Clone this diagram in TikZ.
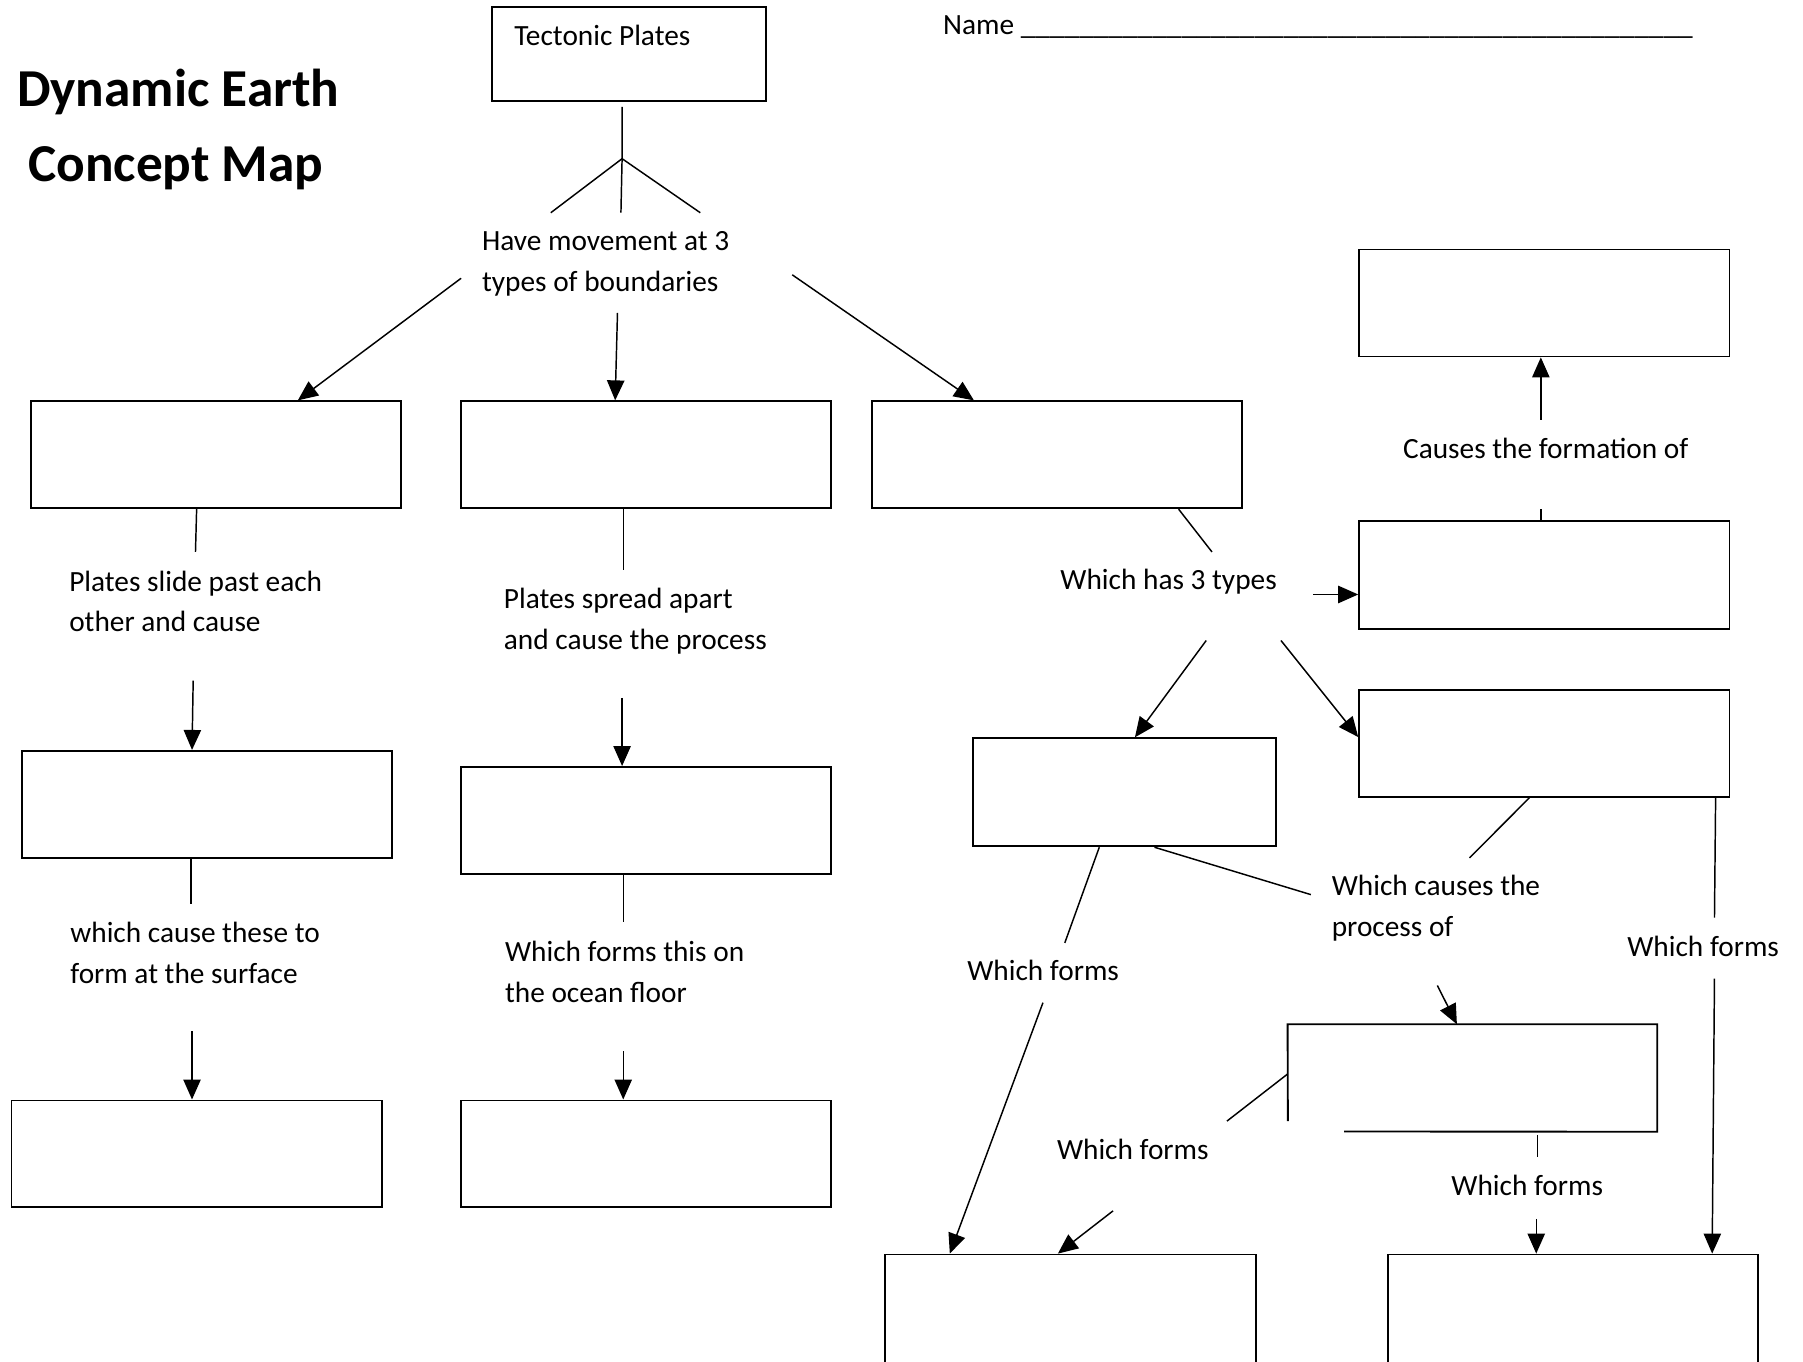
\documentclass[tikz,border=0pt]{standalone}
\usepackage{fontspec}
\setmainfont{Carlito}
\usetikzlibrary{arrows.meta}
\def\myu{0.8625pt}
\newcommand\twolines[2]{\parbox[t]{340pt}{#1\\#2}}
\tikzset{
  bx/.style={draw, line width=1.4pt, inner sep=0pt, minimum width=322*\myu, minimum height=93*\myu},
  ghost/.style={inner sep=0pt, minimum width=321*\myu, minimum height=93*\myu},
  ln/.style={line width=1.1pt},
  arr/.style={line width=1.1pt, -{Triangle[length=15pt,width=13pt]}},
  txt/.style={inner sep=0pt, anchor=base west, font=\fontsize{22}{30.6}\selectfont},
  txtone/.style={inner sep=0pt, anchor=base west, font=\fontsize{22}{30.6}\selectfont},
  ttl/.style={inner sep=0pt, anchor=base, font=\fontsize{40}{56}\selectfont\bfseries},
}
\begin{document}
\begin{tikzpicture}[x=0.8625pt, y=-0.8625pt]
\clip (0,0) rectangle (1568,1184);
\fill[white] (0,0) rectangle (1568,1184);

% titles
\node[ttl] (t1) at (155,93) {Dynamic Earth};
\node[ttl] (t2) at (153,158) {Concept Map};
\node[txtone] (name) at (820,30) {Name \_\_\_\_\_\_\_\_\_\_\_\_\_\_\_\_\_\_\_\_\_\_\_\_\_\_\_\_\_\_\_\_\_\_\_\_\_\_\_\_\_\_\_\_\_\_};

% boxes
\node[bx, minimum width=238*\myu, minimum height=82*\myu] (tp) at (547,47) {};
\node[txtone] (tpl) at (447,40) {Tectonic Plates};
\node[bx] (b1) at (188,395.5) {};
\node[bx] (b2) at (562,395.5) {};
\node[bx] (b3) at (919,395.5) {};
\node[bx] (r1) at (1343,263.5) {};
\node[bx, minimum height=94*\myu] (r2) at (1343,500) {};
\node[bx] (r3) at (1343,646.5) {};
\node[bx] (c1) at (180,699.5) {};
\node[bx] (c2) at (562,713.5) {};
\node[bx] (d1) at (171,1003.5) {};
\node[bx] (d2) at (562,1003.5) {};
\node[bx, minimum width=264*\myu, minimum height=94*\myu] (m) at (978,689) {};
\node[ghost] (p) at (1280.5,937.5) {};
\node[bx, minimum height=120*\myu] (bl) at (931,1151) {};
\node[bx, minimum height=120*\myu] (br) at (1368,1151) {};
\coordinate (pa) at (1120,975);
\coordinate (pb) at (1169,984);
\draw[line width=1.4pt] (pa) -- (p.north west) -- (p.north east) -- (p.south east) -- (pb);

% text labels
\node[txt] (hm) at (419,218) {\twolines{Have movement at 3}{types of boundaries}};
\node[txtone] (cf) at (1220,399) {Causes the formation of};
\node[txt] (ps) at (60,514) {\twolines{Plates slide past each}{other and cause}};
\node[txt] (pa2) at (438,529) {\twolines{Plates spread apart}{and cause the process}};
\node[txtone] (wh) at (922,513) {Which has 3 types};
\node[txt] (wc) at (61,820) {\twolines{which cause these to}{form at the surface}};
\node[txt] (wo) at (439,836) {\twolines{Which forms this on}{the ocean floor}};
\node[txt] (wp) at (1158,779) {\twolines{Which causes the}{process of}};
\node[txtone] (wf1) at (841,853) {Which forms};
\node[txtone] (wf2) at (1415,832) {Which forms};
\node[txtone] (wf3) at (919,1008) {Which forms};
\node[txtone] (wf4) at (1262,1040) {Which forms};

% connectors from Tectonic Plates
\coordinate (j0) at (541,93);
\coordinate (j) at (541,138);
\coordinate (jl) at (479,185);
\coordinate (jm) at (540,185);
\coordinate (jr) at (609,185);
\draw[ln] (j0) -- (j) -- (jm);
\draw[ln] (j) -- (jl);
\draw[ln] (j) -- (jr);

\coordinate (h1) at (401,242);
\coordinate (h2) at (537,272);
\coordinate (h3) at (689,239);
\draw[arr] (h1) -- (259,0 |- b1.north);
\draw[arr] (h2) -- (535,0 |- b2.north);
\draw[arr] (h3) -- (847,0 |- b3.north);

% right column top
\coordinate (cf1) at (1340,365);
\draw[arr] (cf1) -- (1340,0 |- r1.south);
\coordinate (cf2) at (1340,443);
\draw[ln] (cf2) -- (1340,0 |- r2.north);

% column 1
\coordinate (a1) at (170,480);
\draw[ln] (171,0 |- b1.south) -- (a1);
\coordinate (a2) at (168,592);
\draw[arr] (a2) -- (167,0 |- c1.north);
\coordinate (a3) at (166,786);
\draw[ln] (166,0 |- c1.south) -- (a3);
\coordinate (a4) at (167,897);
\draw[arr] (a4) -- (167,0 |- d1.north);

% column 2
\coordinate (e1) at (542,496);
\draw[ln] (542,0 |- b2.south) -- (e1);
\coordinate (e2) at (541,607);
\draw[arr] (e2) -- (541,0 |- c2.north);
\coordinate (e3) at (542,802);
\draw[ln] (542,0 |- c2.south) -- (e3);
\coordinate (e4) at (542,914);
\draw[arr] (e4) -- (542,0 |- d2.north);

% column 3
\coordinate (g1) at (1054,480);
\draw[ln] (1025,0 |- b3.south) -- (g1);
\coordinate (g2) at (1142,517);
\draw[arr] (g2) -- (r2.west |- 0,517);
\coordinate (g3) at (1049,557);
\draw[arr] (g3) -- (987,0 |- m.north);
\coordinate (g4) at (1114,557);
\draw[arr] (g4) -- (r3.west |- 0,641);

% from m
\coordinate (k1) at (926,820);
\draw[ln] (956,0 |- m.south) -- (k1);
\coordinate (k2) at (907,872);
\draw[arr] (k2) -- (826,0 |- bl.north);
\coordinate (k3) at (1140,778);
\draw[ln] (1004,0 |- m.south) -- (k3);

% from r3
\coordinate (n1) at (1278,746);
\draw[ln] (1330,0 |- r3.south) -- (n1);
\coordinate (n2) at (1250,857);
\draw[arr] (n2) -- (1267,0 |- p.north);
\coordinate (n3) at (1491,798);
\draw[ln] (1492,0 |- r3.south) -- (n3);
\coordinate (n4) at (1491,851);
\draw[arr] (n4) -- (1489,0 |- br.north);

% from p
\coordinate (q1) at (1067,975);
\draw[ln] (q1) -- (p.west |- 0,934);
\coordinate (q2) at (968,1053);
\draw[arr] (q2) -- (920,0 |- bl.north);
\coordinate (q3) at (1337,987);
\coordinate (q4) at (1337,1006);
\draw[ln] (q3) -- (q4);
\coordinate (q5) at (1336,1060);
\draw[arr] (q5) -- (1336,0 |- br.north);
\end{tikzpicture}
\end{document}
